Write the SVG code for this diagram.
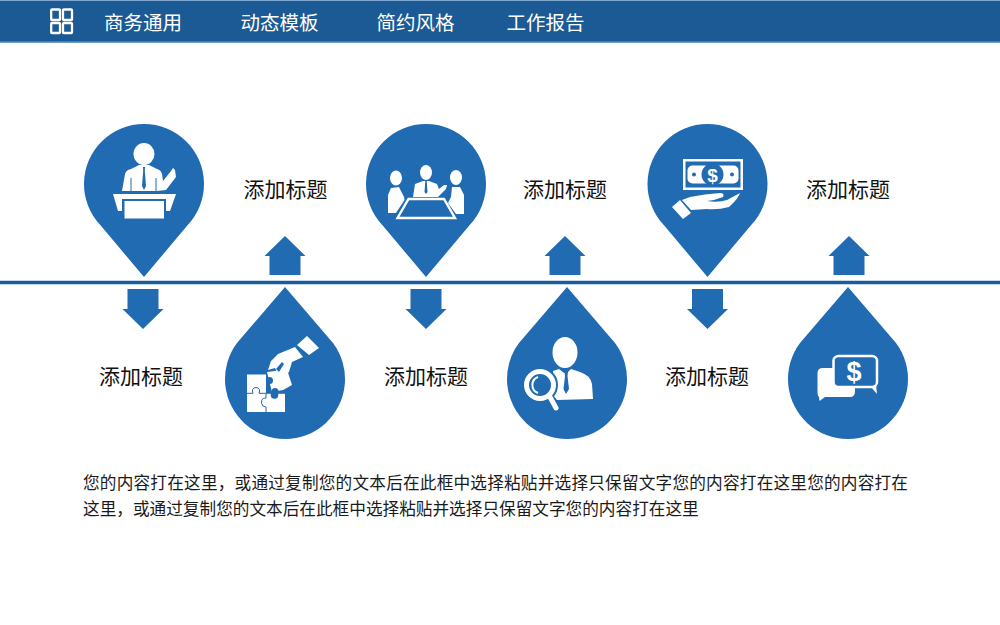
<svg xmlns="http://www.w3.org/2000/svg" width="1000" height="625" viewBox="0 0 1000 625">
<style>
.b{fill:#206bb2}.w{fill:#fff}
.t{font-family:"Noto Sans CJK SC","Liberation Sans",sans-serif;fill:#111;font-size:21px;text-anchor:middle}
.n{font-family:"Noto Sans CJK SC","Liberation Sans",sans-serif;fill:#fff;font-size:19.500px}
.d{font-family:"Noto Sans CJK SC","Liberation Sans",sans-serif;fill:#1a1a1a;font-size:16.650px}
.s{font-family:"Liberation Sans",sans-serif;fill:#fff;font-weight:700;text-anchor:middle}
.l{fill:none;stroke:#206bb2;stroke-width:1}
</style>
<defs>
<path id="pin" d="M0 93 L-43.500 41.300 A60 60 0 1 1 43.500 41.300 Z"/>
<path id="drop" d="M0 -92 L-48 -36 A60 60 0 1 0 48 -36 Z"/>
<path id="up" d="M0 0 L20.500 20 L15.500 20 L15.500 39 L-15.500 39 L-15.500 20 L-20.500 20 Z"/>
<path id="down" d="M0 0 L20.500 -20 L15.500 -20 L15.500 -40 L-15.500 -40 L-15.500 -20 L-20.500 -20 Z"/>
</defs>
<rect id="header" x="0" y="0" width="1000" height="43" fill="#1b5a94"/>
<rect x="0" y="0" width="1000" height="1" fill="#7ea8cf"/>
<rect x="0" y="41.500" width="1000" height="1.500" fill="#6e9fca"/>
<g id="menu-icon" fill="none" stroke="#fff" stroke-width="2.300">
<rect x="51.200" y="9.500" width="8.800" height="10.500" rx="0.800"/><rect x="63" y="9.500" width="9" height="10.500" rx="0.800"/>
<rect x="51.200" y="23" width="8.800" height="10" rx="0.800"/><rect x="63" y="23" width="9" height="10" rx="0.800"/>
</g>
<g id="nav">
<text class="n" x="104" y="30">商务通用</text>
<text class="n" x="240.500" y="30">动态模板</text>
<text class="n" x="376.500" y="30">简约风格</text>
<text class="n" x="506.500" y="30">工作报告</text>
</g>
<g id="connectors">
<rect x="0" y="280.500" width="1000" height="4" fill="#7fb0dc"/>
<rect x="0" y="281" width="1000" height="3" fill="#1f5a94"/>
<use href="#up" class="b" x="285" y="236"/>
<use href="#up" class="b" x="565" y="236"/>
<use href="#up" class="b" x="849" y="236"/>
<use href="#down" class="b" x="143" y="329"/>
<use href="#down" class="b" x="426" y="329"/>
<use href="#down" class="b" x="707.500" y="329"/>
</g>
<g id="node-1">
<use href="#pin" class="b" x="144" y="184"/>
<ellipse class="w" cx="144" cy="154" rx="10.500" ry="11"/>
<path class="w" d="M122 191 L125 174 Q126 170 131 169 L139 165 L149 165 L157 169 Q161 170 162 174 L163 181 L171 171 L173 168 L175 170 L176 177 L166 190 L157 191 Z"/>
<path class="b" d="M143 167 H145 L144.800 171 L146 186 L144 190 L142 186 L143.200 171 Z"/>
<path class="l" d="M131 178 V191 M156 178 V191" stroke-width="0.800"/>
<path class="w" d="M113 194 H176 L170 211 H118 Z"/>
<rect class="b" x="122" y="199" width="44" height="21"/>
<rect class="w" x="124.500" y="201" width="39.500" height="17.500"/>
</g>
<g id="node-2">
<use href="#pin" class="b" x="426" y="184"/>
<ellipse class="w" cx="396" cy="178" rx="6" ry="7.500"/>
<path class="w" d="M391 188 L399 187 L404 197 L404.500 200 L396 213 L388 213 L388 195 Z"/>
<ellipse class="w" cx="456" cy="177.500" rx="6" ry="7.500"/>
<path class="w" d="M452 187 L460 187 L464 195 L464 214 L456 214 L448 203 L451 197 Z"/>
<ellipse class="w" cx="426" cy="172.500" rx="6" ry="7.500"/>
<path class="w" d="M413 197 L415 184 L423 181 L429 181 L437 184 L439 189 L444 185 L447 185 L446 189 L438 197 Z"/>
<path class="b" d="M425.300 181 H426.700 L427.500 192 L426 194 L424.500 192 Z"/>
<path d="M408.500 199 H444 L455 218 H397.500 Z" class="b" stroke="#fff" stroke-width="2.400"/>
</g>
<g id="node-3">
<use href="#pin" class="b" x="707.500" y="184"/>
<rect class="w" x="683" y="159" width="60" height="31"/>
<rect class="b" x="685.500" y="161.500" width="55" height="26"/>
<rect class="w" x="687.500" y="165.500" width="51" height="18" rx="5"/>
<circle class="b" cx="712.500" cy="174.500" r="11"/>
<circle class="b" cx="694" cy="174.500" r="2"/>
<circle class="b" cx="732" cy="174.500" r="2"/>
<text class="s" x="712.500" y="181.500" font-size="19">$</text>
<path class="w" d="M672 207 L680 200 L691 213 L683 219 Z"/>
<path class="w" d="M682 200 L690 197 Q705 194 720 193 Q725 193 723 197 Q716 200 707 201 Q718 203 727 200 L740 193 Q738 199 729 207 Q718 210 707 209 L691 210 Z"/>
</g>
<g id="node-4">
<use href="#drop" class="b" x="285" y="379"/>
<rect class="w" x="247" y="374.500" width="38" height="37.500"/>
<rect class="b" x="266" y="373.500" width="20" height="19.500"/>
<path class="l" d="M247 393.300 H253 Q251 388 256 387.500 Q261 388 259 393.300 H285 M266 393.300 V398 Q261 398 261.500 403 Q262 407 266 407 V412"/>
<circle class="b" cx="274.500" cy="395" r="3.800"/>
<path class="w" d="M267 372 L287 369.500 L292 385 L283 390 L272 392 Z"/>
<circle class="b" cx="269.500" cy="380.500" r="3.500"/>
<circle class="b" cx="275" cy="391.500" r="3.500"/>
<path class="w" d="M268 370 L271 361 L278 354 L295 347 L303 357 L292 362 L289 372 L283 377 L280 375 L277 372 L275 368 Z"/>
<path class="b" d="M276 369 L282 362 L284 364 L279 372 Z"/>
<path class="w" d="M297 345 L307 336 L319 348 L309 355 Z"/>
</g>
<g id="node-5">
<use href="#drop" class="b" x="567" y="379"/>
<ellipse class="w" cx="565" cy="352.500" rx="12.500" ry="15.500"/>
<path class="w" d="M553 371 L559 369 L564 373 L567 373 L571 369 L580 372 Q590 375 592 384 L593 399 L557 400 L553 395 Z"/>
<path class="b" d="M564.500 372 H568 L567.500 376 L569 389 L566 394 L563.500 389 L565 376 Z"/>
<circle class="b" cx="540" cy="385" r="18"/>
<circle cx="540" cy="385" r="13.500" fill="none" stroke="#fff" stroke-width="5"/>
<path d="M550 397 L556 408" fill="none" stroke="#fff" stroke-width="5" stroke-linecap="round"/>
<path d="M538 377 A8.500 8.500 0 0 0 538 393" fill="none" stroke="#fff" stroke-width="2"/>
</g>
<g id="node-6">
<use href="#drop" class="b" x="848" y="379"/>
<path class="w" d="M833 368 H823 Q817.500 368 817.500 373 V392 Q817.500 396 819 397 L819.500 401 L825 397 H850 Q855 397 855 391 V385 H833 Z"/>
<rect x="833.500" y="356" width="43.500" height="31" rx="5" class="b" stroke="#fff" stroke-width="2.500"/>
<path class="w" d="M871 387 L877 394 L876 385 Z"/>
<text class="s" x="854" y="381" font-size="27">$</text>
</g>
<g id="labels">
<text class="t" x="285.500" y="197">添加标题</text>
<text class="t" x="565" y="197">添加标题</text>
<text class="t" x="848" y="197">添加标题</text>
<text class="t" x="141" y="384">添加标题</text>
<text class="t" x="426" y="384">添加标题</text>
<text class="t" x="707" y="384">添加标题</text>
</g>
<g id="body">
<text class="d" x="83" y="489" letter-spacing="0.200">您的内容打在这里，或通过复制您的文本后在此框中选择粘贴并选择只保留文字您的内容打在这里您的内容打在</text>
<text class="d" x="83" y="515">这里，或通过复制您的文本后在此框中选择粘贴并选择只保留文字您的内容打在这里</text>
</g>
</svg>
